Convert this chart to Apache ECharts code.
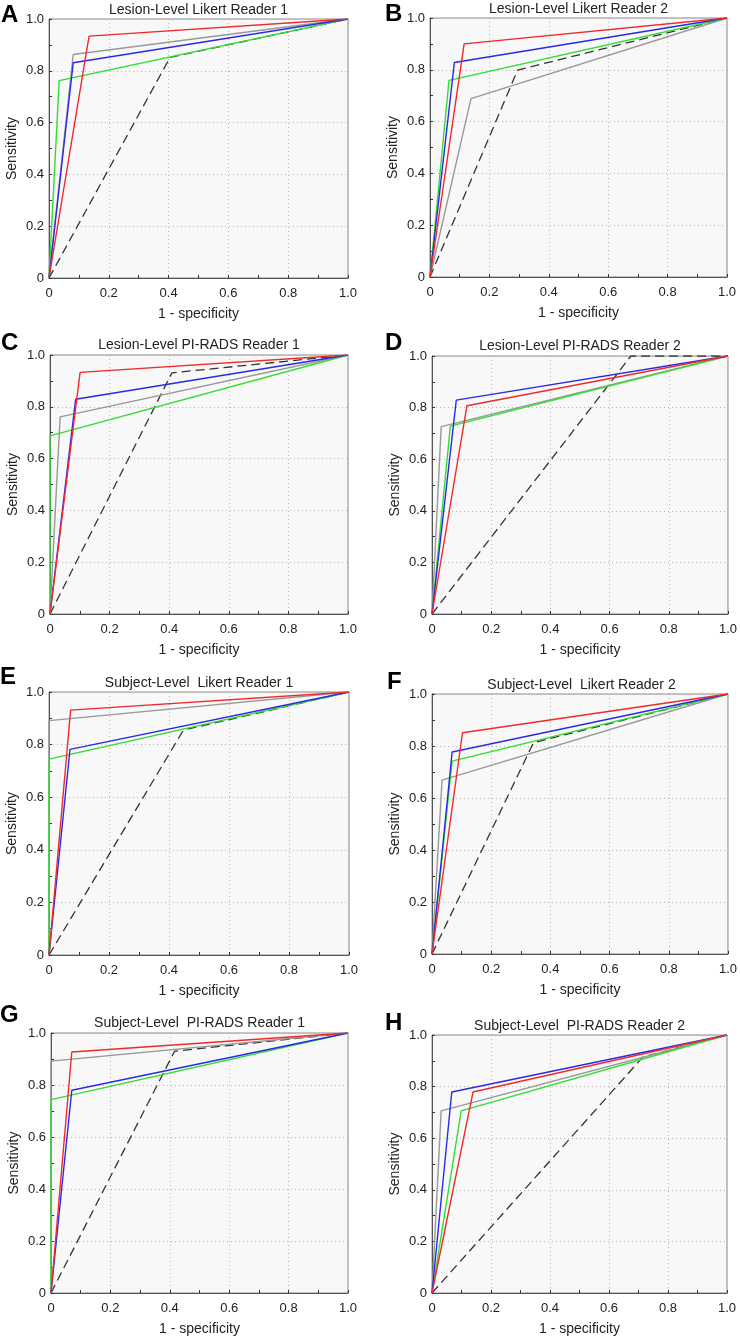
<!DOCTYPE html>
<html>
<head>
<meta charset="utf-8">
<script src="https://cdn.jsdelivr.net/npm/echarts@6/dist/echarts.min.js"></script>
<style>
html,body{margin:0;padding:0;background:#fff;}
#chart{width:740px;height:1340px;}
</style>
</head>
<body>
<div id="chart"></div>
<script>
// Panel labels and titles (A..H)
const panelLetters = ['A','B','C','D','E','F','G','H'];
const panelTitles = [
  'Lesion-Level Likert Reader 1', 'Lesion-Level Likert Reader 2',
  'Lesion-Level PI-RADS Reader 1', 'Lesion-Level PI-RADS Reader 2',
  'Subject-Level  Likert Reader 1', 'Subject-Level  Likert Reader 2',
  'Subject-Level  PI-RADS Reader 1', 'Subject-Level  PI-RADS Reader 2'
];
const axisTicks = [0, 0.2, 0.4, 0.6, 0.8, 1.0];

// Operating point (1 - specificity, sensitivity) of each curve, per panel A..H
const redFpr   = [0.134, 0.115, 0.101, 0.118, 0.072, 0.103, 0.070, 0.139];
const redTpr   = [0.934, 0.900, 0.933, 0.807, 0.931, 0.851, 0.927, 0.779];
const grayFpr  = [0.081, 0.138, 0.034, 0.031, 0.000, 0.034, 0.000, 0.031];
const grayTpr  = [0.863, 0.689, 0.761, 0.726, 0.891, 0.669, 0.892, 0.706];
const blueFpr  = [0.081, 0.082, 0.086, 0.082, 0.070, 0.068, 0.070, 0.067];
const blueTpr  = [0.831, 0.828, 0.829, 0.829, 0.782, 0.777, 0.780, 0.779];
const greenFpr = [0.034, 0.064, 0.000, 0.062, 0.000, 0.068, 0.000, 0.099];
const greenTpr = [0.762, 0.759, 0.688, 0.728, 0.745, 0.742, 0.744, 0.706];
const dashFpr  = [0.405, 0.295, 0.409, 0.672, 0.448, 0.343, 0.416, 0.715];
const dashTpr  = [0.852, 0.799, 0.931, 1.000, 0.855, 0.813, 0.930, 0.915];

// Layout of the plot areas (pixels)
const plotBoxes = [
  {l:49, r:348, t:19,  b:278}, {l:430, r:727, t:18,  b:277},
  {l:50, r:348, t:355, b:614}, {l:432, r:728, t:356, b:614},
  {l:49, r:349, t:692, b:955}, {l:432, r:731, t:694, b:954},
  {l:51, r:348, t:1033,b:1293},{l:432, r:727, t:1035,b:1293}
];
const titleY  = [3, 2, 338, 339, 676, 678, 1016, 1019];
const letterPos = [[1,3],[385,2],[1,331],[385,331],[0,665],[387,670],[0,1003],[385,1011]];

const FONT = '"Liberation Sans", Arial, sans-serif';
const curves = [
  {fpr: dashFpr,  tpr: dashTpr,  color:'#333333', type:'dashed', w:1.3},
  {fpr: grayFpr,  tpr: grayTpr,  color:'#999999', type:'solid',  w:1.4},
  {fpr: greenFpr, tpr: greenTpr, color:'#33dd33', type:'solid',  w:1.4},
  {fpr: blueFpr,  tpr: blueTpr,  color:'#2a2ae6', type:'solid',  w:1.4},
  {fpr: redFpr,   tpr: redTpr,   color:'#f02a2a', type:'solid',  w:1.4}
];

const grids = [], xAxes = [], yAxes = [], series = [], titles = [];
const fmt = v => v === 0 ? '0' : v.toFixed(1);

plotBoxes.forEach((p, i) => {
  grids.push({left:p.l, top:p.t, width:p.r-p.l, height:p.b-p.t, show:true,
    backgroundColor:'#f8f8f8', borderColor:'#8a8a8a', borderWidth:1, containLabel:false});
  const common = {
    gridIndex:i, type:'value', min:axisTicks[0], max:axisTicks[axisTicks.length-1], interval:0.2,
    axisLine:{show:true, lineStyle:{color:'#555', width:1}},
    axisTick:{show:true, inside:true, length:3, lineStyle:{color:'#333'}},
    minorTick:{show:true, splitNumber:2, length:3, lineStyle:{color:'#333'}},
    splitLine:{show:true, lineStyle:{color:'#b5b5b5', type:[1,3], width:1}},
    axisLabel:{color:'#222', fontSize:13, fontFamily:FONT, formatter:fmt},
    nameLocation:'middle',
    nameTextStyle:{color:'#222', fontSize:14, fontFamily:FONT}
  };
  xAxes.push(Object.assign({}, common, {name:'1 - specificity', nameGap:29,
    axisLabel:Object.assign({}, common.axisLabel, {margin:9})}));
  yAxes.push(Object.assign({}, common, {name:'Sensitivity', nameGap:30,
    axisLabel:Object.assign({}, common.axisLabel, {margin:5})}));
  curves.forEach(c => {
    series.push({
      type:'line', xAxisIndex:i, yAxisIndex:i, symbol:'none', silent:true, animation:false,
      data:[[0,0],[c.fpr[i], c.tpr[i]],[1,1]],
      lineStyle:{color:c.color, width:c.w, type:c.type === 'dashed' ? [9,5] : 'solid'}
    });
  });
  titles.push({text:panelTitles[i], left:(p.l+p.r)/2, top:titleY[i], textAlign:'center', padding:0,
    textStyle:{fontSize:14, fontWeight:'normal', color:'#222', fontFamily:FONT}});
  titles.push({text:panelLetters[i], left:letterPos[i][0], top:letterPos[i][1], padding:0,
    textStyle:{fontSize:24, fontWeight:'bold', color:'#000', fontFamily:FONT}});
});

const chart = echarts.init(document.getElementById('chart'), null, {renderer:'canvas'});
chart.setOption({
  backgroundColor:'#fff',
  animation:false,
  title:titles,
  grid:grids,
  xAxis:xAxes,
  yAxis:yAxes,
  series:series
});
</script>
</body>
</html>
